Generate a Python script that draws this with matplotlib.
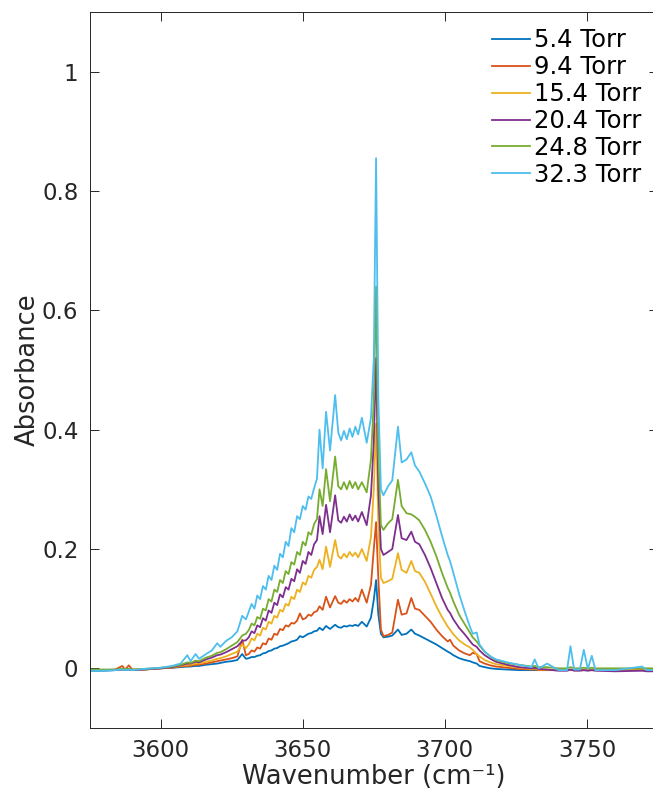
import matplotlib
matplotlib.use("Agg")
import matplotlib.pyplot as plt

# wavenumber grid (cm^-1), shared by all six spectra
wn = [3575, 3580, 3584, 3586.5, 3587.5, 3588.8, 3590, 3594, 3597, 3600, 3604,
      3607, 3609.4, 3610.5, 3612.3, 3613.5, 3616, 3618, 3619.9, 3621, 3623, 3625, 3627, 3628.7, 3630,
      3631, 3632, 3633, 3634, 3635, 3636, 3637, 3638, 3639, 3640, 3641, 3642, 3643, 3644, 3645,
      3646, 3647, 3648, 3649, 3650, 3651, 3652, 3653, 3654, 3655,
      3655.9, 3657, 3658.2, 3659.6, 3661.4, 3662.5, 3663.5, 3664.5, 3665.5, 3666.5, 3667.5, 3668.5,
      3669.5, 3670.8, 3672.5, 3674, 3675, 3675.8, 3676.6, 3677.5, 3678.4, 3680, 3681.5, 3683.5,
      3684.8, 3686.5, 3688.2, 3689.5, 3691,
      3693, 3695, 3697, 3699, 3701, 3701.8, 3703, 3705, 3707, 3708.8, 3709.8, 3711.2, 3712.2, 3714,
      3716, 3718, 3722, 3726, 3730.5, 3731.6, 3733, 3736, 3740, 3743, 3744.2, 3745.5, 3747.5,
      3748.9, 3750.3, 3751.7, 3753, 3760, 3769.4, 3771, 3775]

a_5_4 = [-0.004, -0.004, -0.003, -0.002, -0.003, -0.002, -0.003, -0.002, -0.001, 0.000, 0.001,
         0.002, 0.003, 0.003, 0.004, 0.004, 0.006, 0.007, 0.008, 0.009, 0.011, 0.012, 0.014, 0.024, 0.016,
         0.017, 0.019, 0.019, 0.021, 0.022, 0.025, 0.026, 0.029, 0.030, 0.033, 0.034, 0.037, 0.038, 0.040, 0.042,
         0.045, 0.046, 0.048, 0.054, 0.052, 0.055, 0.058, 0.059, 0.062, 0.063,
         0.068, 0.064, 0.071, 0.066, 0.073, 0.069, 0.068, 0.071, 0.070, 0.072, 0.071, 0.073,
         0.071, 0.078, 0.070, 0.085, 0.115, 0.148, 0.090, 0.058, 0.052, 0.053, 0.055, 0.065,
         0.056, 0.058, 0.065, 0.058, 0.055,
         0.050, 0.045, 0.040, 0.034, 0.028, 0.026, 0.022, 0.017, 0.014, 0.012, 0.010, 0.008, 0.004, 0.002,
         0.000, -0.001, -0.002, -0.003, -0.003, -0.003, -0.003, -0.003, -0.003, -0.003, -0.003, -0.003, -0.003,
         -0.003, -0.003, -0.003, -0.003, -0.003, -0.003, -0.003, -0.003]

a_9_4 = [-0.003, -0.003, -0.002, 0.004, -0.002, 0.005, -0.002, -0.002, -0.001, 0.000, 0.001,
         0.003, 0.004, 0.004, 0.006, 0.006, 0.008, 0.010, 0.012, 0.013, 0.015, 0.017, 0.020, 0.048, 0.022,
         0.024, 0.030, 0.028, 0.035, 0.033, 0.042, 0.040, 0.050, 0.048, 0.058, 0.056, 0.066, 0.064, 0.072, 0.070,
         0.076, 0.075, 0.080, 0.092, 0.082, 0.084, 0.090, 0.088, 0.094, 0.096,
         0.104, 0.098, 0.120, 0.102, 0.121, 0.110, 0.108, 0.114, 0.110, 0.116, 0.112, 0.118,
         0.112, 0.132, 0.110, 0.140, 0.200, 0.245, 0.150, 0.065, 0.054, 0.056, 0.060, 0.115,
         0.090, 0.092, 0.118, 0.100, 0.098,
         0.088, 0.078, 0.065, 0.054, 0.045, 0.048, 0.038, 0.030, 0.025, 0.022, 0.026, 0.024, 0.012, 0.008,
         0.005, 0.003, 0.001, -0.001, -0.002, -0.002, -0.003, -0.003, -0.003, -0.003, -0.003, -0.003, -0.003,
         -0.003, -0.003, -0.003, -0.003, -0.003, -0.003, -0.003, -0.003]

a_15_4 = [-0.003, -0.003, -0.003, -0.002, -0.002, -0.002, -0.003, -0.002, -0.001, 0.000, 0.002,
          0.004, 0.006, 0.006, 0.008, 0.008, 0.011, 0.013, 0.016, 0.017, 0.020, 0.024, 0.028, 0.040, 0.034,
          0.040, 0.050, 0.047, 0.058, 0.055, 0.068, 0.065, 0.078, 0.075, 0.088, 0.085, 0.098, 0.095, 0.108, 0.105,
          0.120, 0.116, 0.132, 0.128, 0.144, 0.140, 0.155, 0.152, 0.165, 0.170,
          0.182, 0.166, 0.204, 0.170, 0.215, 0.188, 0.184, 0.192, 0.186, 0.195, 0.188, 0.194,
          0.186, 0.200, 0.180, 0.220, 0.300, 0.410, 0.240, 0.152, 0.143, 0.146, 0.150, 0.193,
          0.165, 0.160, 0.180, 0.163, 0.160,
          0.145, 0.125, 0.104, 0.086, 0.070, 0.065, 0.057, 0.047, 0.040, 0.035, 0.031, 0.024, 0.020, 0.014,
          0.010, 0.007, 0.004, 0.001, -0.001, 0.000, -0.002, -0.002, -0.003, -0.003, -0.002, -0.003, -0.003,
          -0.003, -0.003, -0.003, -0.003, -0.003, -0.003, -0.003, -0.003]

a_20_4 = [-0.003, -0.003, -0.003, -0.002, -0.002, -0.002, -0.003, -0.002, -0.001, 0.000, 0.002,
          0.005, 0.008, 0.008, 0.011, 0.010, 0.015, 0.018, 0.022, 0.023, 0.027, 0.032, 0.037, 0.046, 0.047,
          0.052, 0.062, 0.059, 0.072, 0.069, 0.084, 0.080, 0.097, 0.093, 0.110, 0.106, 0.124, 0.119, 0.136, 0.132,
          0.150, 0.146, 0.166, 0.160, 0.180, 0.175, 0.195, 0.190, 0.208, 0.215,
          0.255, 0.225, 0.274, 0.228, 0.290, 0.248, 0.244, 0.254, 0.246, 0.258, 0.248, 0.256,
          0.246, 0.262, 0.240, 0.290, 0.380, 0.520, 0.300, 0.200, 0.190, 0.195, 0.200, 0.257,
          0.218, 0.215, 0.229, 0.212, 0.208,
          0.190, 0.168, 0.143, 0.118, 0.098, 0.093, 0.082, 0.068, 0.057, 0.046, 0.040, 0.036, 0.030, 0.022,
          0.016, 0.011, 0.006, 0.002, 0.000, 0.001, -0.001, -0.002, -0.004, -0.004, -0.002, -0.004, -0.004,
          -0.003, -0.004, -0.003, -0.004, -0.005, -0.004, -0.005, -0.005]

a_24_8 = [-0.002, -0.002, -0.002, -0.001, -0.001, -0.001, -0.002, -0.001, 0.000, 0.001, 0.003,
          0.006, 0.010, 0.009, 0.013, 0.012, 0.018, 0.021, 0.026, 0.027, 0.032, 0.038, 0.044, 0.055, 0.058,
          0.064, 0.075, 0.072, 0.086, 0.083, 0.100, 0.097, 0.116, 0.112, 0.132, 0.128, 0.148, 0.143, 0.163, 0.158,
          0.178, 0.174, 0.195, 0.190, 0.212, 0.206, 0.228, 0.224, 0.242, 0.250,
          0.300, 0.272, 0.334, 0.280, 0.355, 0.305, 0.300, 0.312, 0.300, 0.314, 0.302, 0.312,
          0.300, 0.312, 0.295, 0.350, 0.450, 0.640, 0.360, 0.240, 0.232, 0.243, 0.250, 0.316,
          0.272, 0.260, 0.258, 0.254, 0.248,
          0.232, 0.212, 0.188, 0.160, 0.135, 0.127, 0.112, 0.090, 0.074, 0.060, 0.052, 0.045, 0.038, 0.028,
          0.020, 0.014, 0.009, 0.006, 0.003, 0.004, 0.002, 0.002, 0.000, 0.000, 0.002, 0.000, 0.000,
          0.001, 0.000, 0.001, 0.000, 0.000, 0.000, 0.000, 0.000]

a_32_3 = [-0.004, -0.004, -0.003, -0.002, -0.003, -0.002, -0.003, -0.001, 0.000, 0.001, 0.004,
          0.008, 0.022, 0.012, 0.024, 0.016, 0.024, 0.030, 0.042, 0.036, 0.046, 0.052, 0.062, 0.088, 0.082,
          0.095, 0.108, 0.100, 0.122, 0.116, 0.138, 0.132, 0.155, 0.148, 0.172, 0.165, 0.192, 0.186, 0.212, 0.205,
          0.235, 0.228, 0.255, 0.250, 0.272, 0.266, 0.288, 0.284, 0.302, 0.318,
          0.400, 0.335, 0.430, 0.365, 0.458, 0.395, 0.382, 0.398, 0.384, 0.402, 0.388, 0.405,
          0.392, 0.420, 0.378, 0.420, 0.520, 0.855, 0.450, 0.300, 0.290, 0.305, 0.315, 0.405,
          0.345, 0.350, 0.362, 0.340, 0.330,
          0.310, 0.288, 0.256, 0.222, 0.190, 0.180, 0.160, 0.125, 0.095, 0.070, 0.058, 0.060, 0.040, 0.028,
          0.020, 0.015, 0.010, 0.006, 0.002, 0.015, 0.000, 0.008, -0.003, -0.003, 0.037, -0.002, -0.002,
          0.031, -0.001, 0.021, -0.003, -0.003, 0.003, -0.003, -0.003]

labels = ["5.4 Torr", "9.4 Torr", "15.4 Torr", "20.4 Torr", "24.8 Torr", "32.3 Torr"]
series = [a_5_4, a_9_4, a_15_4, a_20_4, a_24_8, a_32_3]
colors = ["#0072BD", "#D95319", "#EDB120", "#7E2F8E", "#77AC30", "#4DBEEE"]

plt.rcParams["font.family"] = "DejaVu Sans"
fig = plt.figure(figsize=(6.53, 7.95), dpi=100)
ax = fig.add_axes([89.6 / 653, 67 / 795, (658 - 89.6) / 653, 716 / 795])

for y, lab, c in zip(series, labels, colors):
    ax.plot(wn, y, color=c, lw=1.3, label=lab)

ax.set_xlim(3575, 3775)
ax.set_ylim(-0.1, 1.1)
ax.set_xticks([3600, 3650, 3700, 3750])
ax.set_yticks([0, 0.2, 0.4, 0.6, 0.8, 1])
ax.set_yticklabels(["0", "0.2", "0.4", "0.6", "0.8", "1"])
ax.tick_params(direction="in", length=6.5, width=0.7, colors="#262626",
               labelsize=16.5, top=True, right=True, pad=8)
for s in ax.spines.values():
    s.set_color("#262626")
    s.set_linewidth(0.7)
ax.set_xlabel("Wavenumber (cm\u207b\u00b9)", fontsize=18.5, color="#262626", labelpad=1)
ax.set_ylabel("Absorbance", fontsize=18.5, color="#262626", labelpad=1)

ax.legend(loc="upper left", bbox_to_anchor=(0.7, 0.984), frameon=False, fontsize=17.5,
          handlelength=1.55, handletextpad=0.17, labelspacing=0.12, borderaxespad=0, borderpad=0.2)

fig.savefig("out.png", dpi=100)
